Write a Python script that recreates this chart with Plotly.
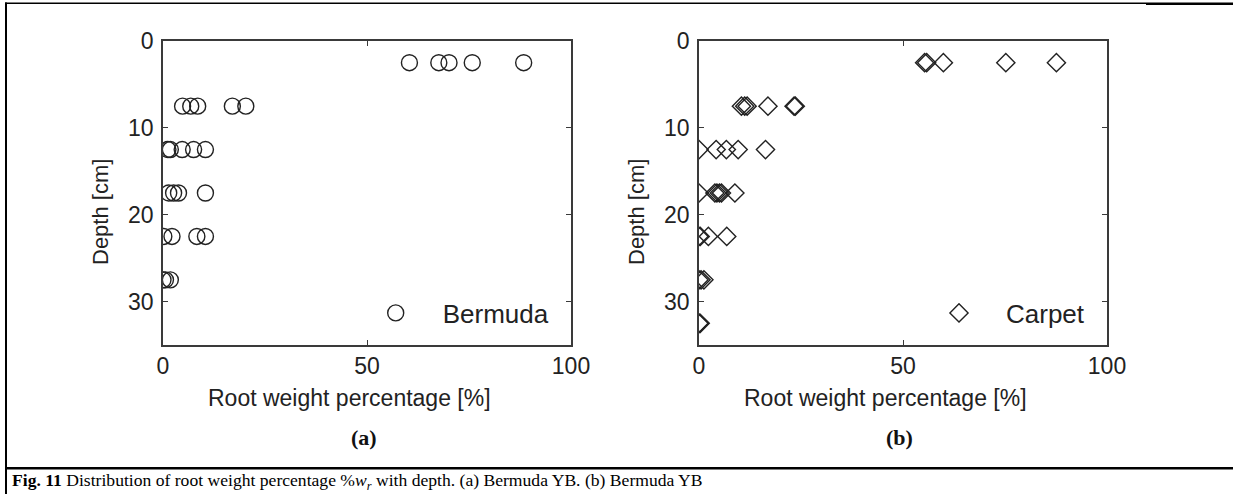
import plotly.graph_objects as go

W, H = 1233, 494

# ---- data ----
bermuda_depth = [2.5]*5 + [7.5]*5 + [12.5]*5 + [17.5]*4 + [22.5]*4 + [27.5]*3
bermuda_pct = [60.4, 67.6, 70.1, 75.8, 88.4,
               4.8, 6.8, 8.5, 17.0, 20.3,
               1.2, 1.8, 4.7, 7.5, 10.4,
               1.4, 2.6, 3.8, 10.4,
               0.2, 2.2, 8.3, 10.4,
               0.0, 0.6, 1.8]

carpet_depth = [2.5]*5 + [7.5]*6 + [12.5]*5 + [17.5]*6 + [22.5]*4 + [27.5]*3 + [32.5]*3
carpet_pct = [55.3, 55.8, 59.9, 75.2, 87.6,
              10.4, 11.2, 11.8, 16.9, 23.3, 23.6,
              0.0, 4.2, 6.7, 9.6, 16.3,
              0.0, 3.9, 4.4, 5.0, 5.5, 8.8,
              0.0, 0.3, 2.3, 6.8,
              0.0, 0.5, 1.2,
              0.0, 0.1, 0.3]

x_ticks = [0, 50, 100]
y_ticks = [0, 10, 20, 30]
x_title = "Root weight percentage [%]"
y_title = "Depth [cm]"
panel_labels = ["(a)", "(b)"]
caption = ("<b>Fig. 11</b> Distribution of root weight percentage %<i>w</i><sub><i>r</i></sub>"
           " with depth. (a) Bermuda YB. (b) Bermuda YB")

SANS = "Liberation Sans, Arial, Helvetica, sans-serif"
SERIF = "Liberation Serif, Times New Roman, serif"
LINE = "#3a3a3a"
TXT = "#222"


def px_x(p):
    return p / W


def px_y(p):
    return 1 - p / H


fig = go.Figure()
fig.add_trace(go.Scatter(
    x=bermuda_pct, y=bermuda_depth, mode="markers", name="Bermuda",
    marker=dict(symbol="circle-open", size=16, color="#222",
                line=dict(width=1.4, color="#222")),
    xaxis="x", yaxis="y", legend="legend"))
fig.add_trace(go.Scatter(
    x=carpet_pct, y=carpet_depth, mode="markers", name="Carpet",
    marker=dict(symbol="diamond-open", size=14, color="#222",
                line=dict(width=1.4, color="#222")),
    xaxis="x2", yaxis="y2", legend="legend2"))

ydom = [px_y(345), px_y(41)]


def xax(dom, anchor):
    return dict(domain=dom, anchor=anchor, range=[0, 100], tickvals=x_ticks,
                ticks="inside", ticklen=5, tickcolor=LINE, mirror="ticks",
                showline=True, linecolor=LINE, linewidth=1.5, showgrid=False,
                zeroline=False, automargin=False,
                tickfont=dict(family=SANS, size=23, color=TXT),
                ticklabelstandoff=0)


def yax(anchor):
    return dict(domain=ydom, anchor=anchor, range=[35, 0], tickvals=y_ticks,
                ticks="inside", ticklen=5, tickcolor=LINE, mirror="ticks",
                showline=True, linecolor=LINE, linewidth=1.5, showgrid=False,
                zeroline=False, automargin=False,
                tickfont=dict(family=SANS, size=23, color=TXT),
                ticklabelstandoff=3)


legend_common = dict(bgcolor="rgba(0,0,0,0)", borderwidth=0, itemwidth=84,
                     font=dict(family=SANS, size=26, color=TXT),
                     yanchor="middle", y=px_y(313), xanchor="left")

fig.update_layout(
    width=W, height=H,
    margin=dict(l=0, r=0, t=0, b=0, pad=0, autoexpand=False),
    paper_bgcolor="white", plot_bgcolor="white", showlegend=True,
    xaxis=xax([px_x(163), px_x(571)], "y"),
    yaxis=yax("x"),
    xaxis2=xax([px_x(699), px_x(1107)], "y2"),
    yaxis2=yax("x2"),
    legend=dict(x=px_x(395.7 - 47), **legend_common),
    legend2=dict(x=px_x(959 - 47), **legend_common),
)

# axis titles (placed as in the reference, slightly off-centre)
for cx in (349, 885):
    fig.add_annotation(x=px_x(cx), y=px_y(398), xref="paper", yref="paper",
                       xanchor="center", yanchor="middle", text=x_title,
                       showarrow=False, font=dict(family=SANS, size=23, color=TXT))
for cx in (100, 636):
    fig.add_annotation(x=px_x(cx), y=px_y(212), xref="paper", yref="paper",
                       xanchor="center", yanchor="middle", text=y_title,
                       textangle=-90, showarrow=False,
                       font=dict(family=SANS, size=22, color=TXT))

# panel labels and caption
for cx, lab in zip((364, 899), panel_labels):
    fig.add_annotation(x=px_x(cx), y=px_y(437), xref="paper", yref="paper",
                       xanchor="center", yanchor="middle",
                       text="<b>" + lab + "</b>", showarrow=False,
                       font=dict(family=SERIF, size=22, color="#111"))
fig.add_annotation(x=px_x(10), y=px_y(481), xref="paper", yref="paper",
                   xanchor="left", yanchor="middle", text=caption,
                   showarrow=False, font=dict(family=SERIF, size=17.6, color="#000"))

# frame lines (filled thin rectangles for crisp rendering)
shapes = [
    dict(type="rect", xref="paper", yref="paper", x0=px_x(5), x1=px_x(7),
         y0=px_y(2.5), y1=px_y(494), fillcolor="black", line=dict(width=0)),
    dict(type="rect", xref="paper", yref="paper", x0=px_x(5), x1=px_x(1146),
         y0=px_y(2.5), y1=px_y(4), fillcolor="black", line=dict(width=0)),
    dict(type="rect", xref="paper", yref="paper", x0=px_x(1146), x1=px_x(1233),
         y0=px_y(2.5), y1=px_y(5), fillcolor="black", line=dict(width=0)),
    dict(type="rect", xref="paper", yref="paper", x0=px_x(5), x1=px_x(1233),
         y0=px_y(467), y1=px_y(469.5), fillcolor="black", line=dict(width=0)),
]
fig.update_layout(shapes=shapes)

fig.write_html(
    "out.html",
    config={"displayModeBar": False},
    post_script="document.body.style.margin='0';document.body.style.overflow='hidden';",
)
